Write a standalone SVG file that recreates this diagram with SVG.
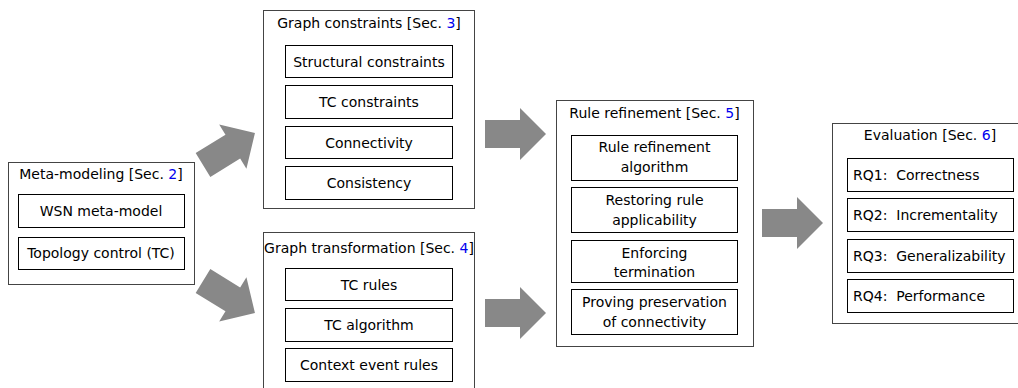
<svg xmlns="http://www.w3.org/2000/svg" width="1018" height="388" viewBox="0 0 1018 388">
<style>
.outer{fill:#fff;stroke:#444;stroke-width:1}
.inner{fill:#fff;stroke:#000;stroke-width:1}
text{font-family:"DejaVu Sans","Liberation Sans",sans-serif;font-size:14px;fill:#000}
.c{text-anchor:middle}
.pre{white-space:pre}
.ref{fill:#0000ee}
.arrow{fill:#888}
</style>
<defs>
<polygon id="arr" points="0,-14 35,-14 35,-26 61,0 35,26 35,14 0,14"/>
</defs>
<g id="connectors">
<use href="#arr" class="arrow" transform="translate(203,165) rotate(-31.6)"/>
<use href="#arr" class="arrow" transform="translate(203,281) rotate(31.6)"/>
<use href="#arr" class="arrow" transform="translate(485,134)"/>
<use href="#arr" class="arrow" transform="translate(485,313)"/>
<use href="#arr" class="arrow" transform="translate(762,223)"/>
</g>
<g id="meta">
<rect class="outer" x="8.5" y="162.5" width="186" height="122"/>
<text class="c" x="101" y="179">Meta-modeling [Sec. <tspan class="ref">2</tspan>]</text>
<rect class="inner" x="18.5" y="194.5" width="166" height="33"/>
<text class="c" x="101" y="216">WSN meta-model</text>
<rect class="inner" x="18.5" y="237.5" width="166" height="32"/>
<text class="c" x="101" y="258">Topology control (TC)</text>
</g>
<g id="constraints">
<rect class="outer" x="263.5" y="10.5" width="211" height="198"/>
<text class="c" x="369" y="28">Graph constraints [Sec. <tspan class="ref">3</tspan>]</text>
<rect class="inner" x="285.5" y="45.5" width="167" height="32"/>
<text class="c" x="369" y="66.5">Structural constraints</text>
<rect class="inner" x="285.5" y="85.5" width="167" height="33"/>
<text class="c" x="369" y="107">TC constraints</text>
<rect class="inner" x="285.5" y="126.5" width="167" height="32"/>
<text class="c" x="369" y="147.5">Connectivity</text>
<rect class="inner" x="285.5" y="166.5" width="167" height="33"/>
<text class="c" x="369" y="188">Consistency</text>
</g>
<g id="transformation">
<rect class="outer" x="263.5" y="232.5" width="211" height="160"/>
<text class="c" x="369" y="253">Graph transformation [Sec. <tspan class="ref">4</tspan>]</text>
<rect class="inner" x="285.5" y="268.5" width="167" height="32"/>
<text class="c" x="369" y="289.5">TC rules</text>
<rect class="inner" x="285.5" y="308.5" width="167" height="33"/>
<text class="c" x="369" y="330">TC algorithm</text>
<rect class="inner" x="285.5" y="348.5" width="167" height="33"/>
<text class="c" x="369" y="370">Context event rules</text>
</g>
<g id="refinement">
<rect class="outer" x="556.5" y="100.5" width="197" height="246"/>
<text class="c" x="654.5" y="118">Rule refinement [Sec. <tspan class="ref">5</tspan>]</text>
<rect class="inner" x="571.5" y="135.5" width="166" height="45"/>
<text class="c" x="654.5" y="152">Rule refinement</text>
<text class="c" x="654.5" y="172">algorithm</text>
<rect class="inner" x="571.5" y="187.5" width="166" height="45"/>
<text class="c" x="654.5" y="205">Restoring rule</text>
<text class="c" x="654.5" y="225">applicability</text>
<rect class="inner" x="571.5" y="240.5" width="166" height="42"/>
<text class="c" x="654.5" y="258">Enforcing</text>
<text class="c" x="654.5" y="277">termination</text>
<rect class="inner" x="571.5" y="289.5" width="166" height="45"/>
<text class="c" x="654.5" y="307">Proving preservation</text>
<text class="c" x="654.5" y="327">of connectivity</text>
</g>
<g id="evaluation">
<rect class="outer" x="832.5" y="123.5" width="196" height="200"/>
<text class="c" x="930" y="140">Evaluation [Sec. <tspan class="ref">6</tspan>]</text>
<rect class="inner" x="847.5" y="158.5" width="166" height="33"/>
<text class="pre" x="853" y="180">RQ1:  Correctness</text>
<rect class="inner" x="847.5" y="198.5" width="166" height="33"/>
<text class="pre" x="853" y="220">RQ2:  Incrementality</text>
<rect class="inner" x="847.5" y="239.5" width="166" height="33"/>
<text class="pre" x="853" y="261">RQ3:  Generalizability</text>
<rect class="inner" x="847.5" y="279.5" width="166" height="33"/>
<text class="pre" x="853" y="301">RQ4:  Performance</text>
</g>
</svg>
